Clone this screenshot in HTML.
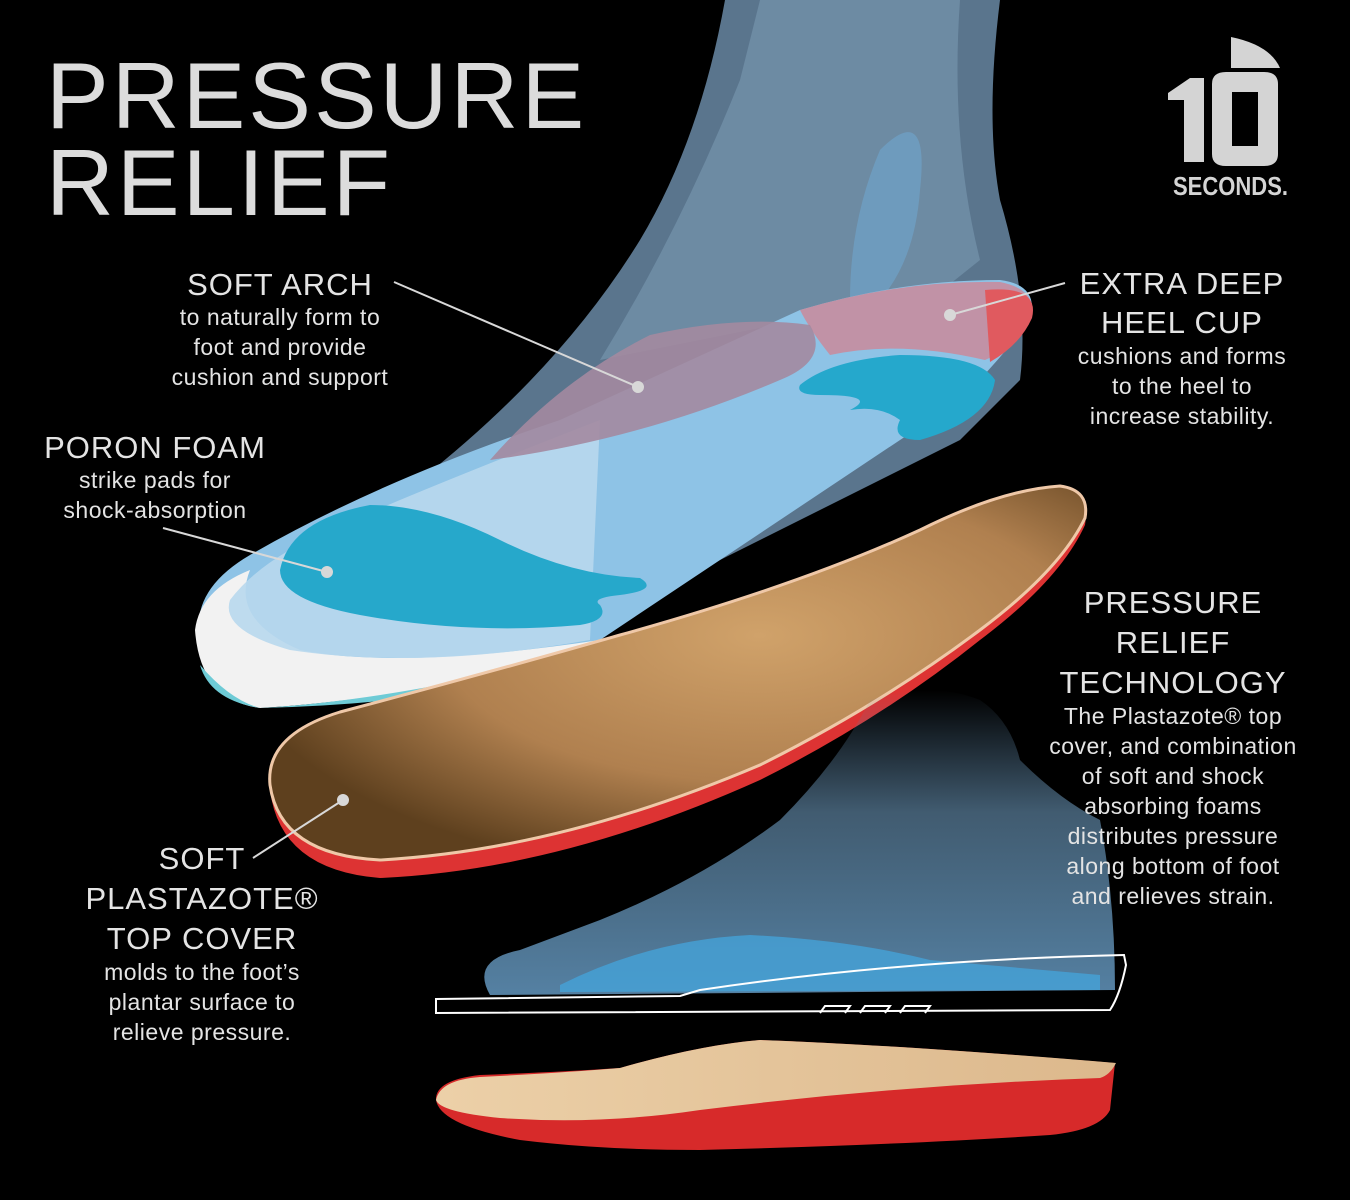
<!DOCTYPE html>
<html><head><meta charset="utf-8"><style>
html,body{margin:0;padding:0;background:#000;}
svg{display:block}
text{font-family:"Liberation Sans",sans-serif;fill:#e4e4e4}
.h{font-size:31px;letter-spacing:1px}
.b{font-size:23px;letter-spacing:0.5px}
</style></head><body>
<svg width="1350" height="1200" viewBox="0 0 1350 1200" xmlns="http://www.w3.org/2000/svg">
<defs>
<radialGradient id="tan" cx="0.6" cy="0.4" r="0.65">
<stop offset="0" stop-color="#d0a26a"/><stop offset="0.6" stop-color="#b0804f"/><stop offset="1" stop-color="#5e401e"/>
</radialGradient>
<linearGradient id="fade" x1="0" y1="0" x2="0" y2="1">
<stop offset="0" stop-color="#5a7f9c" stop-opacity="0"/><stop offset="0.4" stop-color="#5a7f9c" stop-opacity="0.8"/><stop offset="1" stop-color="#5e8fb5"/>
</linearGradient>
<linearGradient id="bt" x1="0" y1="0" x2="1" y2="0">
<stop offset="0" stop-color="#ecd0a8"/><stop offset="1" stop-color="#dcb88c"/>
</linearGradient>
</defs>
<rect width="1350" height="1200" fill="#000"/>
<!-- upper foot -->
<path d="M725 0 L1000 0 Q985 120 1000 200 Q1030 300 1020 380 L960 440 L600 620 L230 690 Q190 650 240 590 Q320 520 420 480 Q560 370 640 240 Q700 140 725 0Z" fill="#6a8aa6" opacity="0.85"/>
<path d="M760 0 L960 0 Q950 140 980 260 L930 300 Q860 290 800 320 L600 360 Q680 230 740 80Z" fill="#7a9ab3" opacity="0.6"/>
<path d="M880 150 Q930 100 920 190 Q915 260 880 300 L850 300 Q850 220 880 150Z" fill="#6fa3c8" opacity="0.7"/>
<!-- insole top layer -->
<path d="M200 640 Q190 590 250 555 Q380 480 560 420 L800 310 Q900 280 1000 280 Q1040 285 1030 320 Q1000 360 960 400 L600 640 Q400 690 260 705 Q205 700 200 640Z" fill="#8ec3e6"/>
<path d="M195 630 Q200 590 250 570 Q230 620 300 650 Q400 670 600 640 L590 655 Q400 700 260 708 Q200 700 195 630Z" fill="#f2f2f2"/>
<path d="M200 665 Q230 700 260 708 Q400 700 595 650 L590 668 Q420 705 260 708 Q210 700 200 665Z" fill="#6ecbd6"/>
<path d="M230 600 Q260 560 330 530 Q420 490 600 420 L590 640 Q420 670 290 650 Q220 630 230 600Z" fill="#b8d8ed" opacity="0.9"/>
<!-- heel red -->
<path d="M800 310 Q900 280 1000 282 Q1040 290 1030 320 Q1010 350 985 360 Q900 340 830 355 Q810 330 800 310Z" fill="#c78d9f" opacity="0.9"/>
<path d="M985 290 Q1040 285 1032 318 Q1020 345 990 362Z" fill="#e05a5f"/>
<path d="M490 460 Q560 380 650 335 Q740 315 810 325 Q830 360 780 380 Q640 440 490 460Z" fill="#a38aa0" opacity="0.9"/>
<!-- heel blue pad -->
<path d="M800 385 Q830 360 900 355 Q980 355 995 380 Q990 420 920 440 Q890 440 900 420 Q880 405 850 410 Q880 395 820 395 Q795 395 800 385Z" fill="#25a8cc"/>
<!-- poron forefoot -->
<path d="M280 570 Q290 520 370 505 Q430 505 500 540 Q570 575 640 578 Q660 590 620 595 Q590 598 600 605 Q610 620 580 625 Q470 635 360 615 Q280 600 280 570Z" fill="#26a8cb"/>
<!-- tan insole -->
<path d="M270 790 Q265 740 340 715 Q480 680 620 640 Q800 590 920 535 Q1000 495 1060 490 Q1090 495 1085 525 Q1060 580 980 640 Q880 720 760 780 Q560 870 380 878 Q280 870 270 790Z" fill="#d33"/>
<path d="M270 785 Q265 735 340 712 Q480 675 620 635 Q800 585 920 530 Q1000 490 1060 486 Q1090 490 1085 518 Q1060 570 980 630 Q880 705 760 765 Q560 850 380 860 Q280 855 270 785Z" fill="url(#tan)" stroke="#efc8a8" stroke-width="3"/>
<!-- lower foot -->
<path d="M870 700 Q930 680 980 700 Q1010 720 1020 760 Q1060 800 1100 820 Q1115 900 1115 990 L490 995 Q470 960 520 950 Q560 935 600 920 Q700 880 780 820 Q840 760 870 700Z" fill="url(#fade)" opacity="0.9"/>
<path d="M560 985 Q650 940 750 935 Q850 940 930 960 L1100 975 L1100 990 L560 992Z" fill="#45a3d8" opacity="0.8"/>
<path d="M436 999 L680 996 L700 990 Q900 960 1124 955 L1126 965 Q1120 995 1110 1010 L436 1013Z" fill="none" stroke="#fff" stroke-width="2"/>
<path d="M820 1013 L825 1006 L850 1006 L845 1013 M860 1013 L865 1006 L890 1006 L885 1013 M900 1013 L905 1006 L930 1006 L925 1013" fill="none" stroke="#fff" stroke-width="2"/>
<!-- bottom insole -->
<path d="M436 1100 Q435 1080 480 1075 Q560 1072 620 1068 Q700 1045 760 1040 Q900 1045 1115 1063 L1110 1110 Q1100 1130 1050 1135 Q900 1145 700 1150 Q600 1150 520 1140 Q440 1125 436 1100Z" fill="#d72a2a"/>
<path d="M436 1100 Q440 1080 480 1077 Q560 1073 620 1068 Q700 1045 760 1040 Q900 1045 1116 1063 Q1110 1075 1100 1078 Q900 1085 700 1110 Q600 1125 500 1118 Q440 1112 436 1100Z" fill="url(#bt)"/>
<!-- leader lines -->
<g stroke="#d8d8d8" stroke-width="2" fill="#d8d8d8">
<line x1="394" y1="282" x2="638" y2="387"/><circle cx="638" cy="387" r="5"/>
<line x1="163" y1="528" x2="327" y2="572"/><circle cx="327" cy="572" r="5"/>
<line x1="1065" y1="283" x2="950" y2="315"/><circle cx="950" cy="315" r="5"/>
<line x1="253" y1="858" x2="343" y2="800"/><circle cx="343" cy="800" r="5"/>
</g>
<!-- title -->
<text x="46" y="128" style="font-size:94px;letter-spacing:3px;fill:#dcdcdc">PRESSURE</text>
<text x="46" y="215" style="font-size:94px;letter-spacing:3px;fill:#dcdcdc">RELIEF</text>
<!-- logo -->
<g fill="#d4d4d4">
<path d="M1231 37 L1231 68 L1280 68 Q1270 45 1231 37Z"/>
<path d="M1168 93 L1190 78 L1204 78 L1204 162 L1184 162 L1184 100 L1168 100Z"/>
<path d="M1212 84 Q1212 72 1226 72 L1264 72 Q1278 72 1278 84 L1278 154 Q1278 166 1264 166 L1226 166 Q1212 166 1212 154Z M1232 92 L1232 146 L1258 146 L1258 92Z" fill-rule="evenodd"/>
</g>
<text x="1173" y="195" style="font-size:26px;font-weight:bold;fill:#d4d4d4" textLength="115" lengthAdjust="spacingAndGlyphs">SECONDS.</text>
<!-- labels -->
<g text-anchor="middle">
<text class="h" x="280" y="295">SOFT ARCH</text>
<text class="b" x="280" y="325">to naturally form to</text>
<text class="b" x="280" y="355">foot and provide</text>
<text class="b" x="280" y="385">cushion and support</text>
<text class="h" x="155" y="458">PORON FOAM</text>
<text class="b" x="155" y="488">strike pads for</text>
<text class="b" x="155" y="518">shock-absorption</text>
<text class="h" x="1182" y="294">EXTRA DEEP</text>
<text class="h" x="1182" y="333">HEEL CUP</text>
<text class="b" x="1182" y="364">cushions and forms</text>
<text class="b" x="1182" y="394">to the heel to</text>
<text class="b" x="1182" y="424">increase stability.</text>
<text class="h" x="1173" y="613">PRESSURE</text>
<text class="h" x="1173" y="653">RELIEF</text>
<text class="h" x="1173" y="693">TECHNOLOGY</text>
<text class="b" x="1173" y="724">The Plastazote® top</text>
<text class="b" x="1173" y="754">cover, and combination</text>
<text class="b" x="1173" y="784">of soft and shock</text>
<text class="b" x="1173" y="814">absorbing foams</text>
<text class="b" x="1173" y="844">distributes pressure</text>
<text class="b" x="1173" y="874">along bottom of foot</text>
<text class="b" x="1173" y="904">and relieves strain.</text>
<text class="h" x="202" y="869">SOFT</text>
<text class="h" x="202" y="909">PLASTAZOTE®</text>
<text class="h" x="202" y="949">TOP COVER</text>
<text class="b" x="202" y="980">molds to the foot’s</text>
<text class="b" x="202" y="1010">plantar surface to</text>
<text class="b" x="202" y="1040">relieve pressure.</text>
</g>
</svg>
</body></html>
